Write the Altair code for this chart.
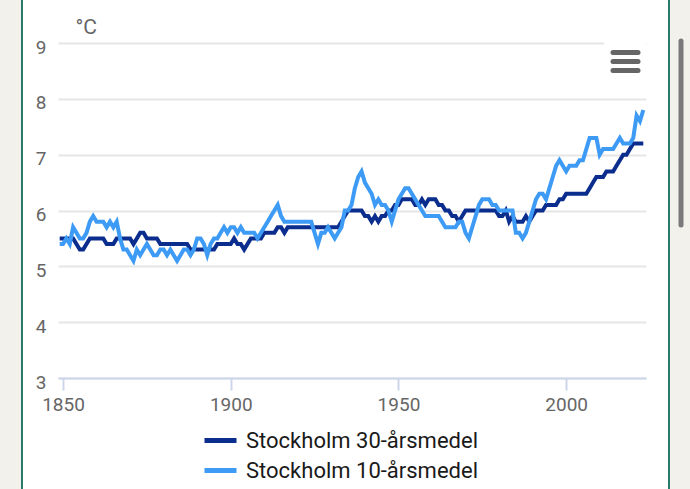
import altair as alt
import pandas as pd

# ---- data ----
years = list(range(1849, 2024))

mean30 = (
    [5.5]
    + [5.5, 5.5, 5.5, 5.5, 5.4, 5.3, 5.3, 5.4, 5.5, 5.5]   # 1850s
    + [5.5, 5.5, 5.5, 5.4, 5.4, 5.4, 5.5, 5.5, 5.5, 5.5]   # 1860s
    + [5.5, 5.4, 5.5, 5.6, 5.6, 5.5, 5.5, 5.5, 5.5, 5.4]   # 1870s
    + [5.4, 5.4, 5.4, 5.4, 5.4, 5.4, 5.4, 5.4, 5.3, 5.3]   # 1880s
    + [5.3, 5.3, 5.3, 5.3, 5.3, 5.3, 5.4, 5.4, 5.4, 5.4]   # 1890s
    + [5.4, 5.5, 5.4, 5.4, 5.3, 5.4, 5.5, 5.5, 5.5, 5.5]   # 1900s
    + [5.6, 5.6, 5.6, 5.6, 5.7, 5.7, 5.6, 5.7, 5.7, 5.7]   # 1910s
    + [5.7, 5.7, 5.7, 5.7, 5.7, 5.7, 5.7, 5.7, 5.7, 5.7]   # 1920s
    + [5.7, 5.7, 5.7, 5.8, 5.9, 6.0, 6.0, 6.0, 6.0, 6.0]   # 1930s
    + [5.9, 5.9, 5.8, 5.9, 5.8, 5.9, 5.9, 6.0, 6.0, 6.1]   # 1940s
    + [6.1, 6.2, 6.2, 6.2, 6.2, 6.1, 6.1, 6.2, 6.1, 6.2]   # 1950s
    + [6.2, 6.2, 6.1, 6.1, 6.0, 6.0, 5.9, 5.9, 5.8, 5.9]   # 1960s
    + [6.0, 6.0, 6.0, 6.0, 6.0, 6.0, 6.0, 6.0, 6.0, 6.0]   # 1970s
    + [5.9, 5.9, 6.0, 5.8, 5.9, 5.8, 5.8, 5.8, 5.9, 5.8]   # 1980s
    + [5.9, 6.0, 6.0, 6.0, 6.1, 6.1, 6.1, 6.1, 6.2, 6.2]   # 1990s
    + [6.3, 6.3, 6.3, 6.3, 6.3, 6.3, 6.3, 6.4, 6.5, 6.6]   # 2000s
    + [6.6, 6.6, 6.7, 6.7, 6.7, 6.8, 6.9, 7.0, 7.0, 7.1]   # 2010s
    + [7.2, 7.2, 7.2, 7.2]                                 # 2020s
)

mean10 = (
    [5.4]
    + [5.4, 5.5, 5.4, 5.7, 5.6, 5.5, 5.5, 5.6, 5.8, 5.9]   # 1850s
    + [5.8, 5.8, 5.8, 5.7, 5.8, 5.7, 5.8, 5.5, 5.3, 5.3]   # 1860s
    + [5.2, 5.1, 5.3, 5.2, 5.3, 5.4, 5.3, 5.2, 5.2, 5.3]   # 1870s
    + [5.3, 5.2, 5.3, 5.2, 5.1, 5.2, 5.3, 5.3, 5.2, 5.3]   # 1880s
    + [5.5, 5.5, 5.4, 5.2, 5.4, 5.5, 5.5, 5.6, 5.7, 5.6]   # 1890s
    + [5.7, 5.7, 5.6, 5.7, 5.6, 5.6, 5.6, 5.6, 5.5, 5.6]   # 1900s
    + [5.7, 5.8, 5.9, 6.0, 6.1, 5.9, 5.8, 5.8, 5.8, 5.8]   # 1910s
    + [5.8, 5.8, 5.8, 5.8, 5.8, 5.6, 5.4, 5.6, 5.6, 5.7]   # 1920s
    + [5.6, 5.5, 5.6, 5.7, 6.0, 6.0, 6.1, 6.4, 6.6, 6.7]   # 1930s
    + [6.5, 6.4, 6.3, 6.1, 6.2, 6.1, 6.1, 6.0, 5.8, 6.0]   # 1940s
    + [6.2, 6.3, 6.4, 6.4, 6.3, 6.2, 6.1, 6.0, 5.9, 5.9]   # 1950s
    + [5.9, 5.9, 5.9, 5.8, 5.7, 5.7, 5.7, 5.7, 5.8, 5.8]   # 1960s
    + [5.6, 5.5, 5.7, 5.9, 6.1, 6.2, 6.2, 6.2, 6.1, 6.1]   # 1970s
    + [6.0, 6.0, 6.0, 6.0, 6.0, 5.6, 5.6, 5.5, 5.6, 5.8]   # 1980s
    + [6.0, 6.2, 6.3, 6.3, 6.2, 6.4, 6.6, 6.8, 6.9, 6.8]   # 1990s
    + [6.7, 6.8, 6.8, 6.8, 6.9, 6.9, 7.1, 7.3, 7.3, 7.3]   # 2000s
    + [7.0, 7.1, 7.1, 7.1, 7.1, 7.2, 7.3, 7.2, 7.2, 7.2]   # 2010s
    + [7.3, 7.7, 7.6, 7.8]                                 # 2020s
)

series_names = ["Stockholm 30-årsmedel", "Stockholm 10-årsmedel"]
series_colors = ["#0b2d8e", "#3d9bf5"]
x_ticks = [1850, 1900, 1950, 2000]
y_ticks = [3, 4, 5, 6, 7, 8, 9]

assert len(years) == len(mean30) == len(mean10)

df30 = pd.DataFrame({"year": years, "temp": mean30, "series": series_names[0]})
df10 = pd.DataFrame({"year": years, "temp": mean10, "series": series_names[1]})
deco = pd.DataFrame({"k": [0]})

FONT = "Roboto"
LABEL = "#666666"

x_enc = alt.X(
    "year:Q",
    scale=alt.Scale(domain=[1848.5, 2023.8], nice=False, zero=False),
    axis=alt.Axis(
        values=x_ticks, format="d", grid=False, title=None,
        domainColor="#ccd6eb", domainWidth=2,
        tickColor="#ccd6eb", tickSize=12, tickWidth=2,
        labelColor=LABEL, labelFontSize=19, labelFont=FONT, labelPadding=5,
    ),
)
y_enc = alt.Y(
    "temp:Q",
    scale=alt.Scale(domain=[3, 9], nice=False, zero=False),
    axis=alt.Axis(
        values=y_ticks, grid=True, gridColor="#e6e6e6", gridWidth=2,
        domain=False, ticks=False,
        labelColor=LABEL, labelFontSize=19, labelFont=FONT, labelPadding=12,
        labelOffset=4,
        title="°C", titleAngle=0, titleX=17, titleY=-10, titleAlign="left",
        titleBaseline="alphabetic", titleColor=LABEL, titleFontSize=21,
        titleFontWeight="normal", titleFont=FONT,
    ),
)
color_enc = alt.Color(
    "series:N",
    scale=alt.Scale(domain=series_names, range=series_colors),
    legend=alt.Legend(
        title=None, orient="none", legendX=144, legendY=379,
        symbolType="stroke", symbolSize=1024, symbolStrokeWidth=5,
        labelFontSize=22, labelColor="#1a1a1a", labelFont=FONT,
        labelLimit=500, labelOffset=7, rowPadding=-9, direction="vertical",
    ),
)

line30 = alt.Chart(df30).mark_line(strokeWidth=4).encode(x=x_enc, y=y_enc, color=color_enc)
line10 = alt.Chart(df10).mark_line(strokeWidth=4).encode(x=x_enc, y=y_enc, color=color_enc)

base = alt.Chart(deco)
left_bg = base.mark_rect(color="#f2f1ec").encode(
    x=alt.value(-58), x2=alt.value(-36), y=alt.value(-43), y2=alt.value(446))
right_bg = base.mark_rect(color="#f2f1ec").encode(
    x=alt.value(612), x2=alt.value(632), y=alt.value(-43), y2=alt.value(446))
left_border = base.mark_rule(color="#2a7a6c", strokeWidth=2).encode(
    x=alt.value(-36), y=alt.value(-43), y2=alt.value(446))
right_border = base.mark_rule(color="#2a7a6c", strokeWidth=2).encode(
    x=alt.value(611), y=alt.value(-43), y2=alt.value(446))
scrollbar = base.mark_rule(color="#7a7a7a", strokeWidth=5, strokeCap="round").encode(
    x=alt.value(623), y=alt.value(-2), y2=alt.value(182))
menu_box = base.mark_rect(color="white").encode(
    x=alt.value(546), x2=alt.value(588), y=alt.value(-5), y2=alt.value(37))
menu_bars = [
    base.mark_rule(color="#666666", strokeWidth=5, strokeCap="round").encode(
        x=alt.value(555), x2=alt.value(580), y=alt.value(yy))
    for yy in (9.5, 18.5, 27.5)
]

chart = alt.layer(
    left_bg, right_bg, left_border, right_border, scrollbar, menu_box, *menu_bars,
    line30, line10,
).properties(
    width=588, height=335,
    autosize=alt.AutoSizeParams(type="none"),
    padding={"left": 58, "top": 43, "right": 44, "bottom": 111},
    background="white",
).configure_view(stroke=None)

chart.save("out.html", embed_options={"renderer": "svg", "actions": False})
